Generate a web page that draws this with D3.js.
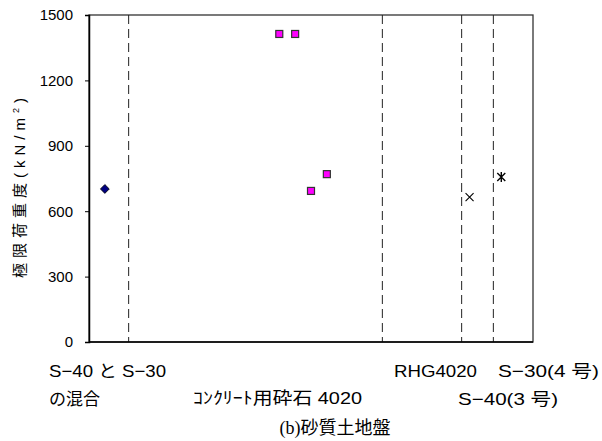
<!DOCTYPE html>
<html>
<head>
<meta charset="utf-8">
<script src="https://cdn.jsdelivr.net/npm/d3@7"></script>
<style>
  body { margin: 0; background: #fff; }
  text { font-family: Arial, "Liberation Sans", "Noto Sans CJK JP", sans-serif; }
</style>
</head>
<body>
<svg id="chart" width="602" height="441"></svg>
<script>
// data (x is position index along the horizontal axis)
var yTicks = [0, 300, 600, 900, 1200, 1500];
var dividers = [2.5, 18.5, 23.5, 25.5];
var mixPts = [{x: 1, y: 702}];
var crushedPts = [{x: 12, y: 1413}, {x: 13, y: 1413}, {x: 14, y: 693}, {x: 15, y: 770}];
var s40Pts = [{x: 24, y: 665}];
var s30Pts = [{x: 26, y: 757}];
var groupLabels = [
    {lines: ["S−40 と S−30", "の混合"], x: 49, y: 377, w: 117},
    {lines: ["ｺﾝｸﾘｰﾄ用砕石 4020"], x: 193, y: 404, w: 169},
    {lines: ["RHG4020"], x: 394, y: 377, w: 83},
    {lines: ["S−30(4 号)"], x: 498, y: 377, w: 101},
    {lines: ["S−40(3 号)"], x: 458, y: 405, w: 100}
];

var svg = d3.select("#chart");
var m = {left: 89, right: 533, top: 15, bottom: 342};

var x = d3.scaleLinear().domain([0, 28]).range([m.left, m.right]);
var y = d3.scaleLinear().domain([0, 1500]).range([m.bottom, m.top]);

// frame
svg.append("rect")
    .attr("x", m.left).attr("y", m.top)
    .attr("width", m.right - m.left).attr("height", m.bottom - m.top)
    .attr("fill", "none").attr("stroke", "#333").attr("stroke-width", 1.3);

// dashed dividers
svg.selectAll(".div")
    .data(dividers)
    .enter().append("line")
    .attr("class", "div")
    .attr("x1", d => x(d)).attr("x2", d => x(d))
    .attr("y1", m.top).attr("y2", m.bottom)
    .attr("stroke", "#222")
    .attr("stroke-width", 1)
    .attr("stroke-dasharray", "9,5");

// y axis
var yAxis = svg.append("g")
    .attr("transform", "translate(" + m.left + ",0)")
    .call(d3.axisLeft(y).tickValues(yTicks).tickFormat(d3.format("d")).tickSize(4).tickPadding(12));
yAxis.select(".domain").attr("stroke", "#000").attr("stroke-width", 1.5);
yAxis.selectAll(".tick line").attr("stroke", "#000");
yAxis.selectAll("text")
    .attr("font-size", "15px")
    .attr("fill", "#000")
    .style("font-family", "Arial, 'Liberation Sans', sans-serif");

// bottom axis line
svg.append("line")
    .attr("x1", m.left).attr("x2", m.right)
    .attr("y1", m.bottom).attr("y2", m.bottom)
    .attr("stroke", "#000").attr("stroke-width", 1.5);

// y title
svg.append("text")
    .attr("transform", "translate(25,188) rotate(-90)")
    .attr("text-anchor", "middle")
    .attr("font-size", "15px")
    .attr("textLength", 180)
    .attr("lengthAdjust", "spacing")
    .html("極限荷重度(kN/m<tspan dy='-6' font-size='9px'>2</tspan><tspan dy='6'>)</tspan>");

// markers
var sym = d3.symbol();
svg.selectAll(".mix")
    .data(mixPts)
    .enter().append("path")
    .attr("d", sym.type(d3.symbolDiamond2).size(50)())
    .attr("transform", d => "translate(" + x(d.x) + "," + y(d.y) + ")")
    .attr("fill", "#000080").attr("stroke", "#000").attr("stroke-width", 0.8);

svg.selectAll(".crushed")
    .data(crushedPts)
    .enter().append("rect")
    .attr("x", d => x(d.x) - 3.5).attr("y", d => y(d.y) - 3.5)
    .attr("width", 7).attr("height", 7)
    .attr("fill", "#ff00ff").attr("stroke", "#333").attr("stroke-width", 1.2);

svg.selectAll(".s40")
    .data(s40Pts)
    .enter().append("path")
    .attr("d", "M-4,-4L4,4M-4,4L4,-4")
    .attr("transform", d => "translate(" + x(d.x) + "," + y(d.y) + ")")
    .attr("stroke", "#000").attr("stroke-width", 1.1).attr("fill", "none");

svg.selectAll(".s30")
    .data(s30Pts)
    .enter().append("path")
    .attr("d", "M-4,-4L4,4M-4,4L4,-4M0,-5L0,5")
    .attr("transform", d => "translate(" + x(d.x) + "," + y(d.y) + ")")
    .attr("stroke", "#000").attr("stroke-width", 1.4).attr("fill", "none");

// group labels under the axis
groupLabels.forEach(function (g) {
    g.lines.forEach(function (l, i) {
        var t = svg.append("text")
            .attr("x", g.x).attr("y", g.y + i * 28)
            .attr("font-size", "17px")
            .text(l);
        if (i == 0) t.attr("textLength", g.w).attr("lengthAdjust", "spacingAndGlyphs");
    });
});

// caption
svg.append("text")
    .attr("x", 335).attr("y", 434)
    .attr("text-anchor", "middle")
    .attr("font-size", "18px")
    .style("font-family", "'Liberation Serif', 'Times New Roman', 'Noto Sans CJK JP', serif")
    .text("(b)砂質土地盤");
</script>
</body>
</html>
